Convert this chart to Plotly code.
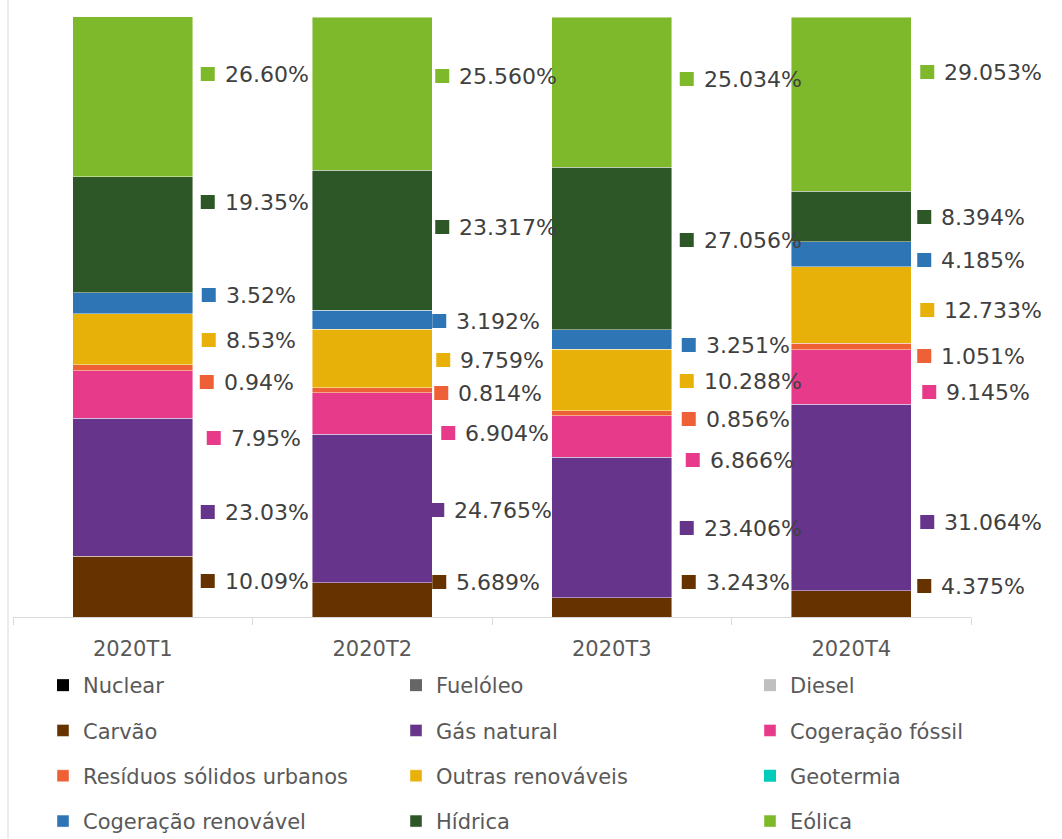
import plotly.graph_objects as go

# ---------------- data ----------------
categories = ["2020T1", "2020T2", "2020T3", "2020T4"]

nuclear = [0, 0, 0, 0]
fuelleo = [0, 0, 0, 0]
diesel = [0, 0, 0, 0]
carvao = [10.09, 5.689, 3.243, 4.375]
gas_natural = [23.03, 24.765, 23.406, 31.064]
cogeracao_fossil = [7.95, 6.904, 6.866, 9.145]
residuos = [0.94, 0.814, 0.856, 1.051]
outras_renovaveis = [8.53, 9.759, 10.288, 12.733]
geotermia = [0, 0, 0, 0]
cogeracao_renovavel = [3.52, 3.192, 3.251, 4.185]
hidrica = [19.35, 23.317, 27.056, 8.394]
eolica = [26.60, 25.560, 25.034, 29.053]

label_decimals = [2, 3, 3, 3]

series_names = ["Nuclear", "Fuelóleo", "Diesel", "Carvão", "Gás natural",
                "Cogeração fóssil", "Resíduos sólidos urbanos", "Outras renováveis",
                "Geotermia", "Cogeração renovável", "Hídrica", "Eólica"]
series_values = [nuclear, fuelleo, diesel, carvao, gas_natural, cogeracao_fossil,
                 residuos, outras_renovaveis, geotermia, cogeracao_renovavel,
                 hidrica, eolica]

# ---------------- styles ----------------
colors = ["#000000", "#666666", "#BFBFBF", "#663300", "#67348C", "#E83A8A",
          "#EE6035", "#E8B10A", "#00CCBB", "#2E75B5", "#2E5727", "#7EB92C"]
legend_col = ["legend", "legend2", "legend3"]

# label placement (layout only): centre y (px in plot) and marker x offset from bar centre (px)
labelled = ["Carvão", "Gás natural", "Cogeração fóssil", "Resíduos sólidos urbanos",
            "Outras renováveis", "Cogeração renovável", "Hídrica", "Eólica"]
label_py = [
    [581, 512, 438, 382, 340, 295, 202, 74],
    [582, 510, 433, 393, 360, 321, 227, 76],
    [582, 528, 460, 419, 381, 345, 240, 79],
    [586, 522, 392, 356, 310, 260, 217, 72],
]
marker_dx = [
    [68, 68, 74, 67, 69, 69, 68, 68],
    [60, 58, 69, 62, 64, 60, 63, 63],
    [70, 68, 74, 70, 68, 70, 68, 68],
    [66, 69, 71, 66, 69, 66, 66, 69],
]

PLOT_TOP, PLOT_BOTTOM = 17, 617
ML, MR = 13, 91
W, H = 1062, 839
PX_PER_PCT = (PLOT_BOTTOM - PLOT_TOP) / 100.0

fig = go.Figure()
for i, (name, vals) in enumerate(zip(series_names, series_values)):
    nonzero = any(v != 0 for v in vals)
    fig.add_trace(go.Bar(
        name=name, x=categories, y=vals,
        marker=dict(color=colors[i],
                    line=dict(color="rgba(255,255,255,0.55)", width=0.8 if nonzero else 0)),
        legend=legend_col[i % 3],
        legendgroup=name,
        hoverinfo="x+y+name",
    ))

annotations = []
shapes = []
for ci, cat in enumerate(categories):
    for si, name in enumerate(labelled):
        idx = series_names.index(name)
        val = series_values[idx][ci]
        ypct = (PLOT_BOTTOM - label_py[ci][si]) / PX_PER_PCT
        dx = marker_dx[ci][si]
        shapes.append(dict(
            type="rect", xref="x", yref="y",
            xsizemode="pixel", ysizemode="pixel",
            xanchor=ci, yanchor=ypct,
            x0=dx, x1=dx + 14, y0=-7, y1=7,
            fillcolor=colors[idx], line=dict(width=0),
        ))
        annotations.append(dict(
            x=ci, y=ypct, xref="x", yref="y",
            text=f"{val:.{label_decimals[ci]}f}%",
            showarrow=False, xanchor="left", yanchor="middle",
            xshift=dx + 22,
            font=dict(family="DejaVu Sans", size=22, color="#404040"),
        ))

# chart-area left border
shapes.append(dict(type="line", xref="paper", yref="paper",
                   x0=(8 - ML) / (W - ML - MR), x1=(8 - ML) / (W - ML - MR),
                   y0=(PLOT_BOTTOM - 0) / (PLOT_BOTTOM - PLOT_TOP),
                   y1=(PLOT_BOTTOM - H) / (PLOT_BOTTOM - PLOT_TOP),
                   line=dict(color="#D9D9D9", width=1)))

plot_w = W - ML - MR
legend_top = (PLOT_BOTTOM - 665) / (PLOT_BOTTOM - PLOT_TOP)
leg_common = dict(orientation="v", traceorder="grouped", tracegroupgap=15,
                  yanchor="top", xanchor="left", y=legend_top,
                  font=dict(family="DejaVu Sans", size=21, color="#595959"),
                  bgcolor="rgba(0,0,0,0)", itemclick=False)

fig.update_layout(
    width=W, height=H,
    barmode="stack", bargap=0.5,
    margin=dict(l=ML, r=MR, t=PLOT_TOP, b=H - PLOT_BOTTOM, autoexpand=False),
    plot_bgcolor="white", paper_bgcolor="white",
    font=dict(family="DejaVu Sans", color="#595959"),
    xaxis=dict(range=[-0.5, 3.5], autorange=False,
               showline=True, linecolor="#D9D9D9", linewidth=1,
               ticks="outside", tickson="boundaries", ticklen=7, tickcolor="#D9D9D9",
               ticklabelstandoff=13,
               tickfont=dict(family="DejaVu Sans", size=21, color="#595959"),
               showgrid=False, fixedrange=True),
    yaxis=dict(range=[0, 100], autorange=False, visible=False, fixedrange=True),
    legend=dict(x=(43 - ML) / plot_w, **leg_common),
    legend2=dict(x=(396 - ML) / plot_w, **leg_common),
    legend3=dict(x=(750 - ML) / plot_w, **leg_common),
    annotations=annotations,
    shapes=shapes,
    showlegend=True,
)

fig.write_html("out.html",
               config={"displayModeBar": False},
               post_script="document.body.style.margin='0';document.body.style.overflow='hidden';")
